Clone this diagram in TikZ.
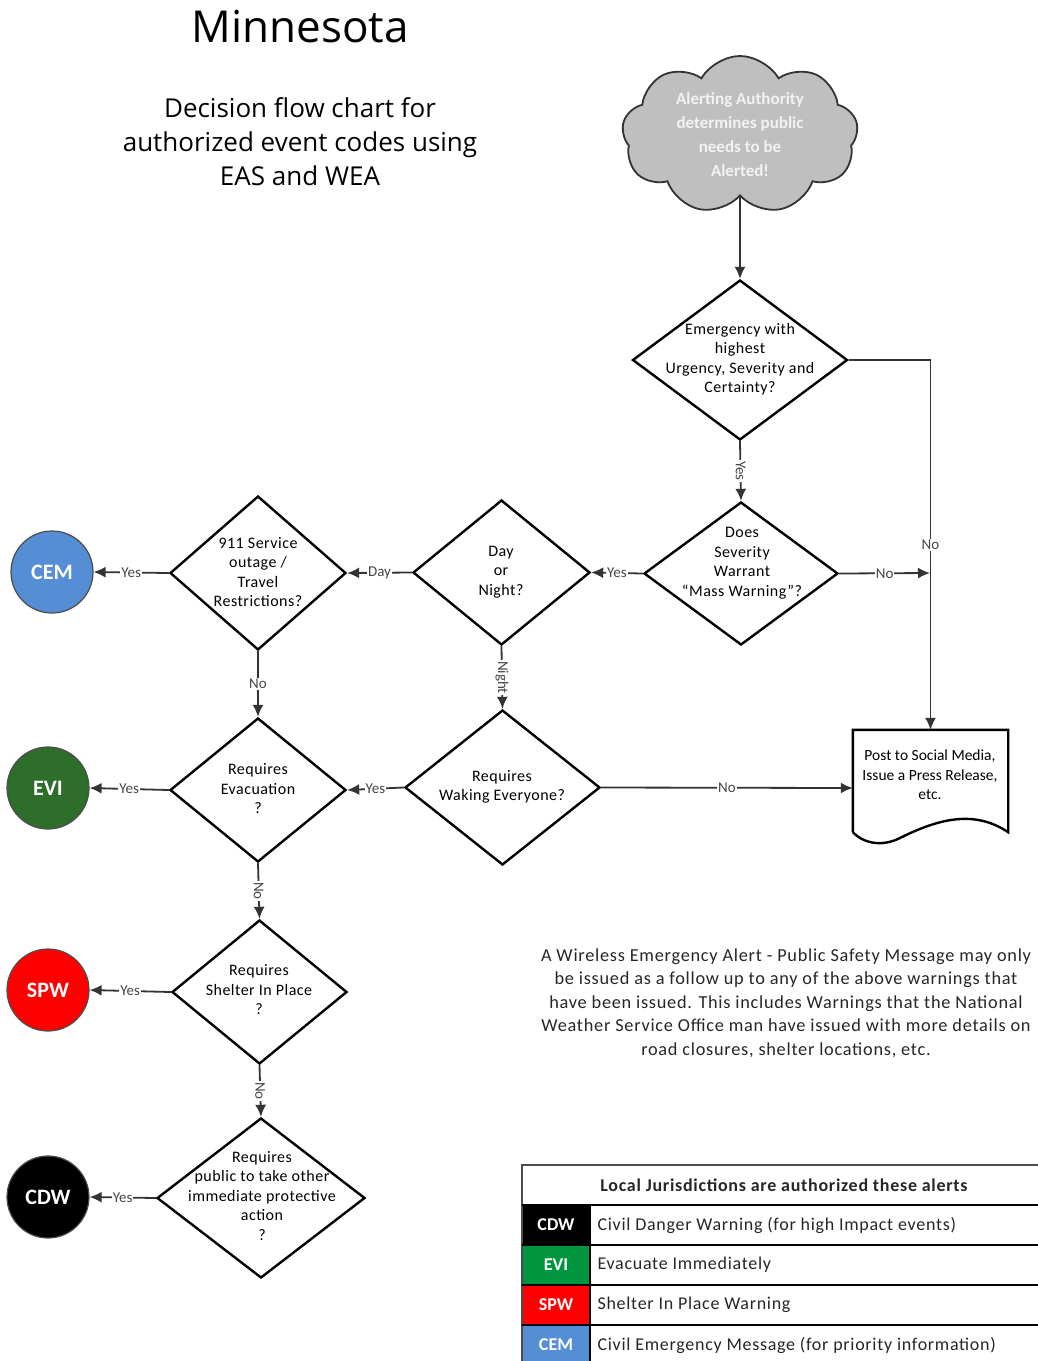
\documentclass[tikz,border=0pt]{standalone}
\usepackage{fontspec}
\setmainfont{Carlito}
\newfontfamily\titlefont{Open Sans}
\newfontfamily\wide[LetterSpace=4]{Carlito}
\newfontfamily\semiwide[LetterSpace=3]{Carlito}
\usetikzlibrary{shapes.geometric,shapes.symbols,arrows.meta}
\definecolor{cemblue}{RGB}{85,142,213}
\definecolor{evigreen}{RGB}{44,110,42}
\definecolor{evitab}{RGB}{0,150,64}
\definecolor{spwred}{RGB}{255,0,0}
\definecolor{cloudgray}{RGB}{191,191,191}
\definecolor{lblgray}{RGB}{70,70,70}
\definecolor{cloudtext}{RGB}{242,242,242}
\begin{document}
\begin{tikzpicture}[x=1pt,y=-1pt,
  dia/.style={diamond, draw, line width=2.4pt, inner sep=0pt, aspect=1},
  dtext/.style={align=center, font=\semiwide\fontsize{16}{19.5}\selectfont, inner sep=0pt},
  conn/.style={draw=black!80, line width=1.8pt, -{Latex[length=12pt,width=11pt]}},
  lbl/.style={fill=white, inner sep=1pt, font=\fontsize{15}{15}\selectfont, text=lblgray},
  vlbl/.style={lbl, rotate=-90},
  code/.style={circle, draw=black!70, line width=1.2pt, minimum size=82pt, inner sep=0pt, text=white, font=\bfseries\fontsize{22}{22}\selectfont},
  tcode/.style={text=white, font=\bfseries\fontsize{18}{18}\selectfont},
  ttext/.style={anchor=west, font=\wide\fontsize{18}{18}\selectfont, text=black!85}
]
\useasboundingbox (0,0) rectangle (1038,1361);

% titles
\node[font=\titlefont\fontsize{44}{44}\selectfont] (title) at (300,27) {Minnesota};
\node[font=\titlefont\fontsize{26}{34}\selectfont, align=center] (subtitle) at (300,142) {Decision flow chart for\\authorized event codes using\\EAS and WEA};

% cloud
\node[cloud, cloud puffs=9, cloud puff arc=120, aspect=1.5, draw=black!80, line width=1.8pt, fill=cloudgray, minimum width=236pt, minimum height=158pt] (cloud) at (740,135) {};
\node[align=center, text=cloudtext, font=\bfseries\fontsize{17}{24}\selectfont, inner sep=0pt] (cloudt) at (740,135) {Alerting Authority\\determines public\\needs to be\\Alerted!};

% diamonds
\node[dia, minimum width=215pt, minimum height=160pt] (d1) at (740,360) {};
\node[dtext] (d1t) at (740,359) {Emergency with\\highest\\Urgency, Severity and\\Certainty?};
\node[dia, minimum width=194pt, minimum height=143pt] (d2) at (741,573.5) {};
\node[dtext] (d2t) at (742,563) {Does\\Severity\\Warrant\\“Mass Warning”?};
\node[dia, minimum width=177pt, minimum height=145pt] (d3) at (501.5,572.5) {};
\node[dtext] (d3t) at (501,572) {Day\\or\\Night?};
\node[dia, minimum width=176pt, minimum height=154pt] (d4) at (258,573) {};
\node[dtext] (d4t) at (258,572) {911 Service\\outage /\\Travel\\Restrictions?};
\node[dia, minimum width=195pt, minimum height=155pt] (d6) at (502.5,787.5) {};
\node[dtext] (d6t) at (502,787) {Requires\\Waking Everyone?};
\node[dia, minimum width=176pt, minimum height=144pt] (d5) at (258,790) {};
\node[dtext] (d5t) at (258,789) {Requires\\Evacuation\\?};
\node[dia, minimum width=175pt, minimum height=144pt] (d7) at (259.5,992) {};
\node[dtext] (d7t) at (259,990) {Requires\\Shelter In Place\\?};
\node[dia, minimum width=208pt, minimum height=160pt] (d8) at (261,1198) {};
\node[dtext] (d8t) at (262,1196) {Requires\\public to take other\\immediate protective\\action\\?};

% code circles
\node[code, fill=cemblue] (cem) at (52,572) {CEM};
\node[code, fill=evigreen] (evi) at (48,788) {EVI};
\node[code, fill=spwred] (spw) at (48,990) {SPW};
\node[code, fill=black] (cdw) at (48,1197) {CDW};

% document shape
\node[minimum width=155pt, minimum height=116pt, inner sep=0pt] (doc) at (930.5,788) {};
\draw[line width=2.4pt] (doc.south west) ++(0,-14) -- (doc.north west) -- (doc.north east) -- ([yshift=14pt]doc.south east)
  .. controls (975,810) and (940,818) .. (900,838) .. controls (880,848) and (862,842) .. ([yshift=14pt]doc.south west);
\node[dtext, font=\fontsize{15.5}{19.5}\selectfont] (doct) at (930,775) {Post to Social Media,\\Issue a Press Release,\\etc.};

\coordinate (j) at (930,573);

% connectors
\draw[conn] (cloud.south) -- (d1.north);
\draw[conn] (d1.east) -| node[lbl, pos=0.75] (lno1) {No} (doc.north);
\draw[conn] (d1.south) -- node[vlbl] (lyes1) {Yes} (d2.north);
\draw[conn] (d2.east) -- node[lbl] (lno2) {No} (j);
\draw[conn] (d2.west) -- node[lbl] (lyes2) {Yes} (d3.east);
\draw[conn] (d3.west) -- node[lbl] (lday) {Day} (d4.east);
\draw[conn] (d4.west) -- node[lbl] (lyes3) {Yes} (cem.east);
\draw[conn] (d4.south) -- node[lbl] (lno3) {No} (d5.north);
\draw[conn] (d3.south) -- node[vlbl] (lnight) {Night} (d6.north);
\draw[conn] (d6.west) -- node[lbl] (lyes4) {Yes} (d5.east);
\draw[conn] (d6.east) -- node[lbl] (lno4) {No} (doc.west);
\draw[conn] (d5.west) -- node[lbl] (lyes5) {Yes} (evi.east);
\draw[conn] (d5.south) -- node[vlbl] (lno5) {No} (d7.north);
\draw[conn] (d7.west) -- node[lbl] (lyes6) {Yes} (spw.east);
\draw[conn] (d7.south) -- node[vlbl] (lno6) {No} (d8.north);
\draw[conn] (d8.west) -- node[lbl] (lyes7) {Yes} (cdw.east);

% paragraph
\node[align=center, font=\wide\fontsize{18.3}{23.5}\selectfont, text=black!85, inner sep=0pt] (para) at (786,1003) {A Wireless Emergency Alert - Public Safety Message may only\\be issued as a follow up to any of the above warnings that\\have been issued. This includes Warnings that the National\\Weather Service Office man have issued with more details on\\road closures, shelter locations, etc.};

% table
\fill[black] (522,1205) rectangle (590,1245);
\fill[evitab] (522,1245) rectangle (590,1285);
\fill[spwred] (522,1285) rectangle (590,1325);
\fill[cemblue] (522,1325) rectangle (590,1361);
\draw[line width=1.2pt, draw=black!70] (1038,1165) -- (522,1165) -- (522,1361);
\draw[line width=1.6pt] (522,1205) -- (1038,1205) (522,1245) -- (1038,1245) (522,1285) -- (1038,1285) (522,1325) -- (1038,1325);
\draw[line width=1.6pt] (590,1205) -- (590,1361);
\node[font=\wide\bfseries\fontsize{18}{18}\selectfont, text=black!85] (thead) at (784,1185) {Local Jurisdictions are authorized these alerts};
\node[tcode] (tc1) at (556,1225) {CDW};
\node[tcode] (tc2) at (556,1265) {EVI};
\node[tcode] (tc3) at (556,1305) {SPW};
\node[tcode] (tc4) at (556,1345) {CEM};
\node[ttext] (tt1) at (594,1225) {Civil Danger Warning (for high Impact events)};
\node[ttext] (tt2) at (594,1265) {Evacuate Immediately};
\node[ttext] (tt3) at (594,1305) {Shelter In Place Warning};
\node[ttext] (tt4) at (594,1345) {Civil Emergency Message (for priority information)};
\end{tikzpicture}
\end{document}
